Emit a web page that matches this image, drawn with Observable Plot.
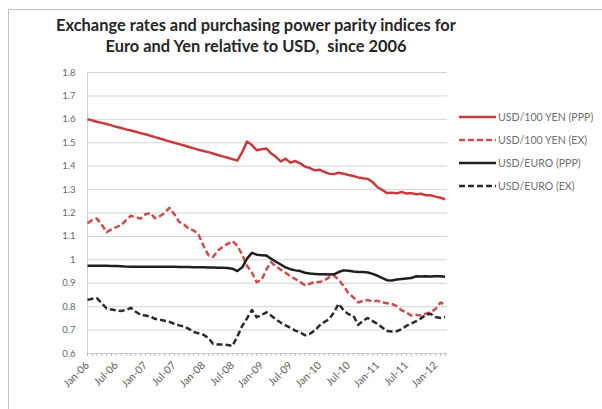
<!DOCTYPE html>
<html>
<head>
<meta charset="utf-8">
<script src="https://cdn.jsdelivr.net/npm/d3@7"></script>
<script src="https://cdn.jsdelivr.net/npm/@observablehq/plot@0.6"></script>
<style>
  html, body { margin: 0; padding: 0; background: #fff; }
  #wrap { position: relative; width: 602px; height: 409px; overflow: hidden; font-family: Lato, "Open Sans", sans-serif; }
  #frame { position: absolute; left: 8px; top: 9px; right: -2px; bottom: -2px; border-top: 1px solid #c4c4c4; border-left: 1px solid #c4c4c4; }
  #title { position: absolute; left: 0; width: 512px; top: 14px; text-align: center; font-weight: 700; font-size: 16.4px; line-height: 21px; color: #262626; }
  #legend { position: absolute; left: 459px; top: 105px; font-size: 10.6px; color: #707070; white-space: nowrap; }
  #legend .row { height: 23px; display: flex; align-items: center; }
  #legend svg { margin-right: 1px; }
  #chart { position: absolute; left: 0; top: 0; }
</style>
</head>
<body>
<div id="wrap">
  <div id="frame"></div>
  <div id="chart"></div>
  <div id="title">Exchange rates and purchasing power parity indices for<br>Euro and Yen relative to USD,&nbsp; since 2006</div>
  <div id="legend"></div>
</div>
<script>
// Monthly observations, January 2006 through March 2012
const startMonth = new Date(Date.UTC(2006, 0, 1));
const monthCount = 75;

const yenPPP = [
  1.600, 1.595, 1.590, 1.585, 1.580, 1.574, 1.568, 1.563, 1.557, 1.552, 1.547, 1.541,
  1.536, 1.530, 1.524, 1.518, 1.512, 1.506, 1.500, 1.494, 1.488, 1.482, 1.476, 1.470,
  1.465, 1.460, 1.454, 1.448, 1.442, 1.436, 1.430, 1.424, 1.460, 1.505, 1.490, 1.468,
  1.472, 1.475, 1.455, 1.440, 1.420, 1.432, 1.415, 1.422, 1.412, 1.398, 1.392, 1.382,
  1.385, 1.375, 1.368, 1.366, 1.372, 1.368, 1.362, 1.358, 1.352, 1.348, 1.345, 1.332,
  1.310, 1.298, 1.285, 1.287, 1.284, 1.290, 1.283, 1.285, 1.280, 1.282, 1.276, 1.276,
  1.270, 1.265, 1.258
];
const yenEX = [
  1.157, 1.170, 1.176, 1.150, 1.118, 1.130, 1.140, 1.148, 1.170, 1.188, 1.182, 1.176,
  1.195, 1.200, 1.178, 1.186, 1.200, 1.222, 1.195, 1.162, 1.150, 1.133, 1.125, 1.108,
  1.060, 1.020, 1.012, 1.040, 1.055, 1.068, 1.080, 1.060, 1.022, 0.975, 0.945, 0.905,
  0.915, 0.960, 0.990, 0.972, 0.958, 0.945, 0.930, 0.918, 0.905, 0.892, 0.898, 0.906,
  0.905, 0.912, 0.925, 0.933, 0.915, 0.888, 0.858, 0.840, 0.818, 0.825, 0.828, 0.822,
  0.825, 0.818, 0.815, 0.812, 0.802, 0.785, 0.775, 0.762, 0.765, 0.762, 0.770, 0.776,
  0.790, 0.818, 0.808
];
const euroPPP = [
  0.975, 0.975, 0.975, 0.975, 0.975, 0.974, 0.974, 0.973, 0.971, 0.970, 0.970, 0.970,
  0.970, 0.970, 0.970, 0.970, 0.970, 0.970, 0.970, 0.969, 0.969, 0.969, 0.968, 0.968,
  0.968, 0.967, 0.967, 0.966, 0.966, 0.965, 0.962, 0.952, 0.968, 1.005, 1.030, 1.022,
  1.020, 1.018, 1.005, 0.992, 0.980, 0.968, 0.960, 0.955, 0.952, 0.945, 0.942, 0.940,
  0.938, 0.938, 0.937, 0.938, 0.948, 0.955, 0.953, 0.950, 0.948, 0.948, 0.946, 0.940,
  0.932, 0.922, 0.913, 0.912, 0.916, 0.918, 0.920, 0.922, 0.930, 0.929, 0.930, 0.929,
  0.930, 0.930, 0.928
];
const euroEX = [
  0.829, 0.834, 0.836, 0.815, 0.792, 0.788, 0.784, 0.782, 0.786, 0.795, 0.778, 0.765,
  0.762, 0.758, 0.748, 0.744, 0.740, 0.735, 0.727, 0.720, 0.715, 0.705, 0.692, 0.686,
  0.680, 0.666, 0.642, 0.638, 0.638, 0.636, 0.632, 0.672, 0.718, 0.750, 0.786, 0.755,
  0.765, 0.776, 0.762, 0.746, 0.732, 0.720, 0.710, 0.698, 0.690, 0.678, 0.684, 0.698,
  0.720, 0.735, 0.746, 0.775, 0.812, 0.785, 0.768, 0.762, 0.722, 0.740, 0.752, 0.738,
  0.726, 0.710, 0.696, 0.694, 0.695, 0.704, 0.718, 0.728, 0.738, 0.750, 0.765, 0.770,
  0.756, 0.752, 0.755
];

const seriesNames = ["USD/100 YEN (PPP)", "USD/100 YEN (EX)", "USD/EURO (PPP)", "USD/EURO (EX)"];
const seriesColors = ["#c63c3c", "#cf4a4a", "#1f1f1f", "#2a2a2a"];
const seriesDash = [null, "6,3", null, "6,3"];
const yTicks = [0.6, 0.7, 0.8, 0.9, 1.0, 1.1, 1.2, 1.3, 1.4, 1.5, 1.6, 1.7, 1.8];

const months = d3.utcMonth.range(startMonth, d3.utcMonth.offset(startMonth, monthCount));
const labelMonths = d3.utcMonth.every(6).range(startMonth, d3.utcMonth.offset(startMonth, monthCount));
const allValues = [yenPPP, yenEX, euroPPP, euroEX];

const rows = allValues.flatMap((vals, i) =>
  vals.map((v, j) => ({series: seriesNames[i], date: months[j], value: v}))
);

const font = "Lato, 'Open Sans', sans-serif";

const lineMarks = seriesNames.map((name, i) =>
  Plot.line(rows.filter(r => r.series === name), {
    x: "date", y: "value",
    stroke: seriesColors[i],
    strokeWidth: 2.5,
    strokeDasharray: seriesDash[i],
    strokeLinejoin: "round",
    strokeLinecap: "butt"
  })
);

const chart = Plot.plot({
  width: 602,
  height: 409,
  marginTop: 72,
  marginBottom: 56,
  marginLeft: 87,
  marginRight: 155,
  style: {fontFamily: font, background: "transparent", overflow: "visible"},
  x: {type: "utc", domain: [startMonth, new Date(Date.UTC(2012, 2, 16))]},
  y: {domain: [0.6, 1.8]},
  marks: [
    Plot.gridY(yTicks, {stroke: "#d4d4d4", strokeOpacity: 1, strokeWidth: 1}),
    Plot.ruleX([startMonth], {stroke: "#cfcfcf"}),
    Plot.ruleY([0.6], {stroke: "#cfcfcf"}),
    Plot.axisY(yTicks, {
      tickSize: 0, tickPadding: 12, fontSize: 9.5, fill: "#666",
      tickFormat: d => String(+d.toFixed(1)), label: null
    }),
    Plot.axisX(months, {tickSize: 3, stroke: "#bdbdbd", tickFormat: () => "", label: null}),
    Plot.axisX(labelMonths, {
      tickSize: 0, tickPadding: 10, tickRotate: -45, fontSize: 10.5, fill: "#5e5e5e",
      tickFormat: d3.utcFormat("%b-%y"), label: null
    }),
    ...lineMarks
  ]
});
document.getElementById("chart").appendChild(chart);

// Legend
const legend = d3.select("#legend");
seriesNames.forEach((name, i) => {
  const row = legend.append("div").attr("class", "row");
  const s = row.append("svg").attr("width", 38).attr("height", 6);
  s.append("line")
    .attr("x1", 0).attr("x2", 37).attr("y1", 3).attr("y2", 3)
    .attr("stroke", seriesColors[i]).attr("stroke-width", 2.5)
    .attr("stroke-dasharray", seriesDash[i]);
  row.append("span").text(name);
});
</script>
</body>
</html>
